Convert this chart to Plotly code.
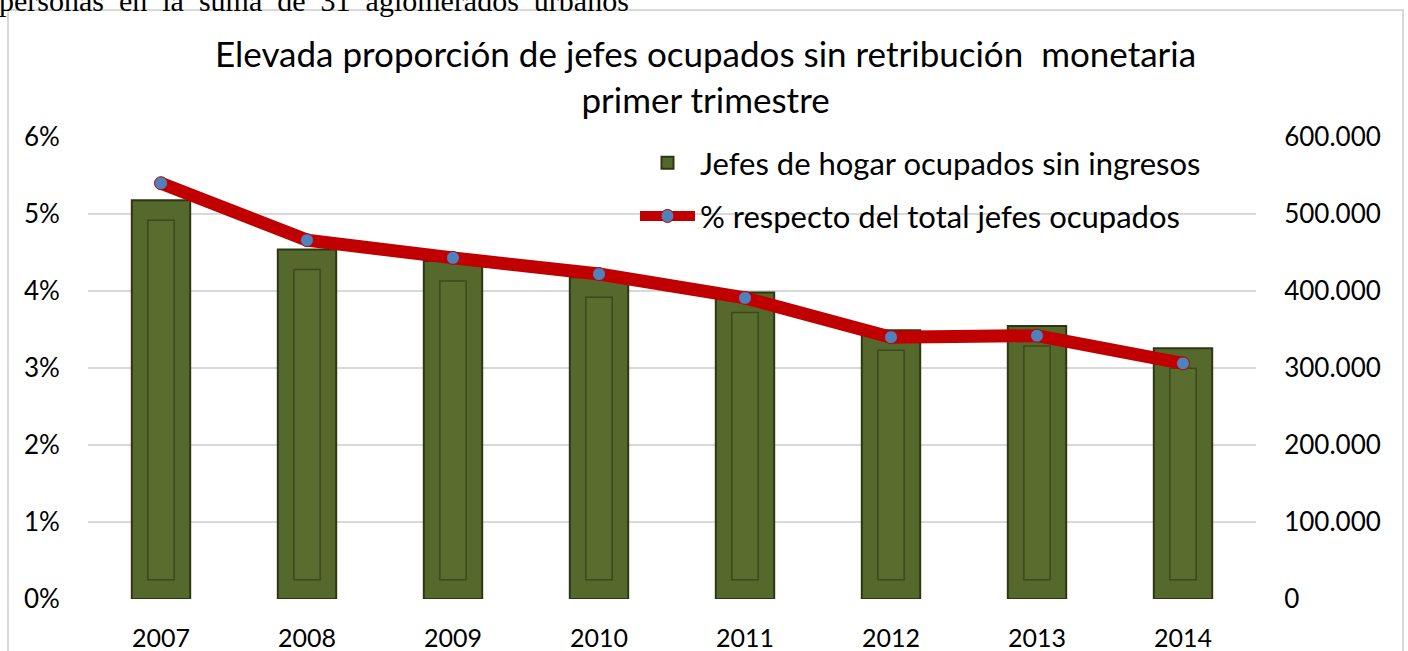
import plotly.graph_objects as go

years = ["2007", "2008", "2009", "2010", "2011", "2012", "2013", "2014"]
jefes_sin_ingresos = [518000, 454000, 439000, 418000, 398000, 349000, 354500, 325600]
pct_total = [0.0540, 0.0466, 0.0443, 0.0422, 0.0391, 0.0340, 0.0342, 0.0306]

left_ticks = [0, 0.01, 0.02, 0.03, 0.04, 0.05, 0.06]
left_labels = ["0%", "1%", "2%", "3%", "4%", "5%", "6%"]
right_ticks = [0, 100000, 200000, 300000, 400000, 500000, 600000]
right_labels = ["0", "100.000", "200.000", "300.000", "400.000", "500.000", "600.000"]

W, H = 1408, 651
L, R, T, B = 88, 152, 137, 52
pw, ph = W - L - R, H - T - B

def px_x(p):
    return (p - L) / pw

def px_y(p):
    return (H - B - p) / ph

FONT = "Lato"

# bevel-style inner panel of each bar (decorative inset)
inset_base = 25000
inset_top_gap = 26000
inner_height = [v - inset_top_gap - inset_base for v in jefes_sin_ingresos]

fig = go.Figure()
fig.add_trace(go.Bar(
    x=years, y=jefes_sin_ingresos, name="Jefes de hogar ocupados sin ingresos",
    width=0.4, marker=dict(color="#56692c", line=dict(color="#2c3714", width=2)),
    yaxis="y", hoverinfo="skip", legendgroup="a",
))
fig.add_trace(go.Bar(
    x=years, y=inner_height, base=inset_base, showlegend=False,
    width=0.18, marker=dict(color="#596d2f", line=dict(color="#3c491d", width=1.5)),
    yaxis="y", hoverinfo="skip",
))
fig.add_trace(go.Scatter(
    x=years, y=pct_total, name="% respecto del total jefes ocupados",
    mode="lines+markers", yaxis="y2", legendgroup="b",
    line=dict(color="#c00000", width=13),
    marker=dict(color="#4f81bd", size=13, line=dict(color="#c00000", width=1)),
))

fig.update_layout(
    width=W, height=H,
    margin=dict(l=L, r=R, t=T, b=B, autoexpand=False),
    paper_bgcolor="white", plot_bgcolor="white",
    font=dict(family=FONT, color="#000000", size=24),
    showlegend=True, barmode="overlay",
    legend=dict(
        x=px_x(635), y=px_y(136), xanchor="left", yanchor="top",
        font=dict(family=FONT, size=31, color="#000"),
        bgcolor="rgba(0,0,0,0)", itemwidth=55, tracegroupgap=10,
        traceorder="grouped",
    ),
    xaxis=dict(
        type="category", showgrid=False, zeroline=False, showline=False,
        ticks="outside", ticklen=17, tickcolor="rgba(0,0,0,0)",
        tickfont=dict(family=FONT, size=25), range=[-0.5, 7.5],
    ),
    yaxis=dict(
        side="right", range=[0, 600000], tickvals=right_ticks, ticktext=right_labels,
        showgrid=True, gridcolor="#d9d9d9", gridwidth=2, zeroline=False, showline=False,
        ticks="outside", ticklen=22, tickcolor="rgba(0,0,0,0)",
        tickfont=dict(family=FONT, size=26),
    ),
    yaxis2=dict(
        overlaying="y", side="left", range=[0, 0.06], tickvals=left_ticks, ticktext=left_labels,
        showgrid=False, zeroline=False, showline=False,
        ticks="outside", ticklen=22, tickcolor="rgba(0,0,0,0)",
        tickfont=dict(family=FONT, size=26),
    ),
    annotations=[
        dict(text="Elevada proporción de jefes ocupados sin retribución  monetaria<br>primer trimestre",
             x=px_x(705), y=px_y(76), xref="paper", yref="paper", xanchor="center", yanchor="middle",
             showarrow=False, font=dict(family=FONT, size=35, color="#000")),
        dict(text="personas  en  la  suma  de  31  aglomerados  urbanos",
             x=px_x(-3), y=px_y(19), xref="paper", yref="paper", xanchor="left", yanchor="bottom",
             showarrow=False, font=dict(family="Liberation Serif", size=30, color="#000")),
    ],
    shapes=[
        dict(type="rect", xref="paper", yref="paper",
             x0=px_x(8), x1=px_x(1403), y0=px_y(10), y1=px_y(700),
             line=dict(color="#d9d9d9", width=2), fillcolor="rgba(0,0,0,0)", layer="below"),
    ],
)

fig.write_html("out.html", config={"displayModeBar": False},
               post_script="document.body.style.margin='0';document.body.style.overflow='hidden';")
